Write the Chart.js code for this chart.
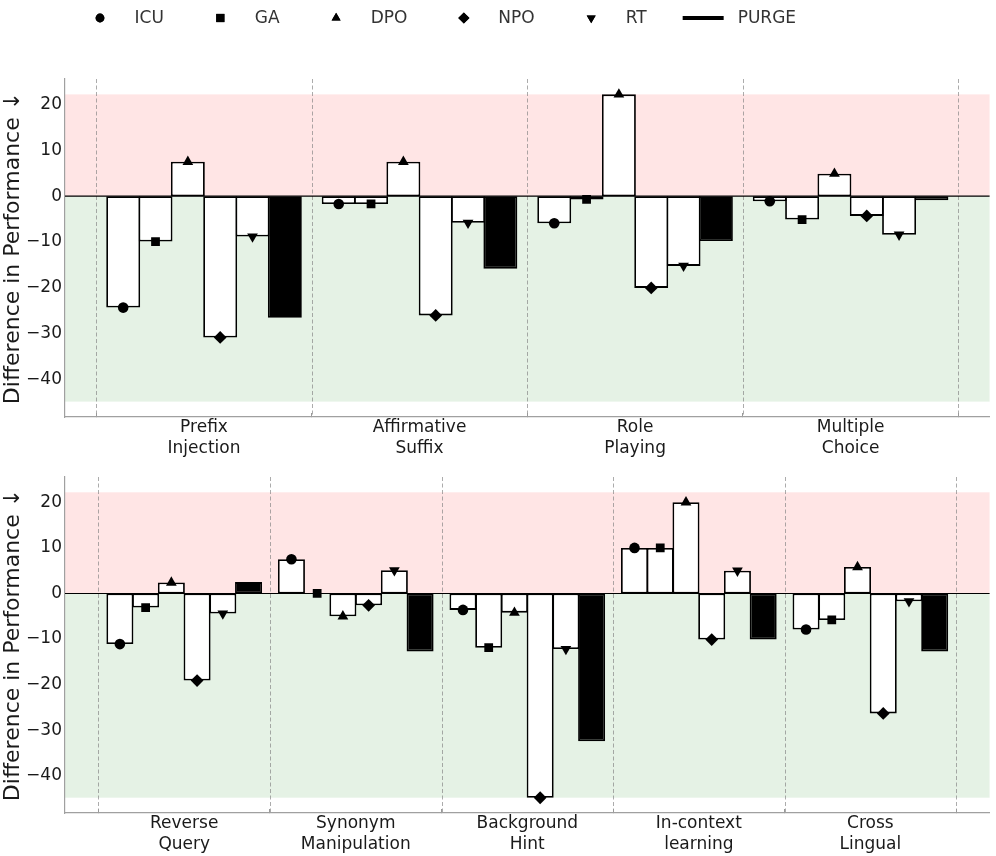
<!DOCTYPE html>
<html><head><meta charset="utf-8">
<script src="https://cdn.jsdelivr.net/npm/chart.js@4.4.0/dist/chart.umd.min.js"></script>
<style>
html,body{margin:0;padding:0;background:#fff;}
#wrap{position:relative;width:996px;height:856px;overflow:hidden;}
#c1box{position:absolute;left:0;top:0;width:996px;height:460px;}
#c2box{position:absolute;left:0;top:460px;width:996px;height:396px;}
</style></head><body>
<div id="wrap"><div id="c1box"><canvas id="c1"></canvas></div><div id="c2box"><canvas id="c2"></canvas></div></div>
<script>
// ---------------- DATA ----------------
const seriesNames = ['ICU', 'GA', 'DPO', 'NPO', 'RT', 'PURGE'];

const topCategories = ['Prefix Injection', 'Affirmative Suffix', 'Role Playing', 'Multiple Choice'];
const topICU   = [-24.3, -1.7, -5.9, -1.1];
const topGA    = [-9.9, -1.7, -0.7, -5.1];
const topDPO   = [7.5, 7.5, 22.2, 4.9];
const topNPO   = [-30.8, -26.0, -20.0, -4.3];
const topRT    = [-8.8, -5.8, -15.2, -8.4];
const topPURGE = [-26.5, -15.8, -9.8, -0.9];

const bottomCategories = ['Reverse Query', 'Synonym Manipulation', 'Background Hint', 'In-context learning', 'Cross Lingual'];
const bottomICU   = [-11.1, 7.5, -3.6, 10.0, -7.9];
const bottomGA    = [-3.1, 0.0, -11.9, 10.0, -5.8];
const bottomDPO   = [2.4, -5.0, -4.2, 20.0, 5.8];
const bottomNPO   = [-19.1, -2.6, -44.8, -10.1, -26.3];
const bottomRT    = [-4.4, 5.1, -12.2, 5.0, -1.7];
const bottomPURGE = [2.5, -12.7, -32.4, -10.1, -12.7];

const yTickValues = [20, 10, 0, -10, -20, -30, -40];
const yTitle = 'Difference in Performance \u2193';

// ---------------- STYLE ----------------
const markerStyles = ['circle', 'rect', 'triangle', 'rectRot', 'triangle'];
const markerRotations = [0, 0, 0, 0, 180];
const markerRadii = [5.3, 6.2, 6.2, 6.4, 6.2];
const legendRadii = [4.4, 5.8, 5.2, 5.6, 5.2];
const FONT = 'DejaVu Sans';
Chart.defaults.font.family = FONT;
Chart.defaults.color = '#1a1a1a';

const topSeries = [topICU, topGA, topDPO, topNPO, topRT, topPURGE];
const bottomSeries = [bottomICU, bottomGA, bottomDPO, bottomNPO, bottomRT, bottomPURGE];
const allVals = topSeries.concat(bottomSeries).flat();
const bandMax = Math.max(...allVals);
const bandMin = Math.min(...allVals);
const yRange = bandMax - bandMin;
const yMin = bandMin - 0.05 * yRange;
const yMax = bandMax + 0.05 * yRange;

function fmt(v) { return String(v).replace('-', '\u2212'); }

function makeChart(id, cats, series, padTop, withLegend) {
  const n = cats.length;
  const nS = series.length;
  const catPct = 0.9;
  const barW = catPct / nS;
  const xLo = -catPct / 2, xHi = n - 1 + catPct / 2;
  const xPad = 0.05 * (xHi - xLo);
  const datasets = [];
  series.forEach((vals, j) => {
    const isPurge = j === nS - 1;
    datasets.push({
      type: 'bar', label: seriesNames[j],
      data: vals.map((v, i) => ({x: i, y: v})),
      backgroundColor: isPurge ? '#000' : '#fff',
      borderColor: '#000', borderWidth: 1.8, borderSkipped: false,
      barPercentage: 1.05, categoryPercentage: catPct, inflateAmount: 0, order: 1
    });
  });
  series.slice(0, nS - 1).forEach((vals, j) => {
    datasets.push({
      type: 'line', label: seriesNames[j] + '_m',
      data: vals.map((v, i) => ({x: i + (j - (nS - 1) / 2) * barW, y: v})),
      showLine: false, pointStyle: markerStyles[j], pointRotation: markerRotations[j],
      pointRadius: markerRadii[j], pointBackgroundColor: '#000', pointBorderColor: '#000',
      pointBorderWidth: 0, order: 0
    });
  });

  const bgPlugin = {
    id: 'bg' + id,
    beforeDraw(chart) {
      const {ctx, chartArea: a, scales: {x, y}} = chart;
      ctx.save();
      const y0 = y.getPixelForValue(0), yT = y.getPixelForValue(bandMax), yB = y.getPixelForValue(bandMin);
      ctx.fillStyle = 'rgba(255,0,0,0.1)';
      ctx.fillRect(a.left, yT, a.right - a.left, y0 - yT);
      ctx.fillStyle = 'rgba(0,128,0,0.1)';
      ctx.fillRect(a.left, y0, a.right - a.left, yB - y0);
      ctx.strokeStyle = 'rgba(128,128,128,0.65)';
      ctx.lineWidth = 1;
      ctx.setLineDash([4, 2.5]);
      for (let i = 0; i <= n; i++) {
        const px = Math.round(x.getPixelForValue(i - 0.5)) + 0.5;
        ctx.beginPath(); ctx.moveTo(px, a.top); ctx.lineTo(px, a.bottom); ctx.stroke();
      }
      ctx.restore();
    },
    beforeDatasetsDraw(chart) {
      const {ctx, chartArea: a, scales: {y}} = chart;
      const y0 = y.getPixelForValue(0);
      ctx.save();
      ctx.strokeStyle = '#000'; ctx.lineWidth = 1.2;
      ctx.beginPath(); ctx.moveTo(a.left, y0); ctx.lineTo(a.right, y0); ctx.stroke();
      ctx.restore();
    }
  };

  const legendPlugin = {
    id: 'lg' + id,
    afterDraw(chart) {
      if (!withLegend) return;
      const ctx = chart.ctx;
      ctx.save();
      ctx.font = '17px "' + FONT + '"';
      ctx.textBaseline = 'middle';
      const handleLen = 41, textPad = 14, colSpace = 36, cy = 18;
      let xCur = 79.5;
      seriesNames.forEach((name, j) => {
        const hc = xCur + handleLen / 2;
        ctx.fillStyle = '#000';
        if (j < markerStyles.length) {
          Chart.helpers.drawPoint(ctx, {
            pointStyle: markerStyles[j], rotation: markerRotations[j],
            radius: legendRadii[j], borderWidth: 0
          }, hc, cy);
          ctx.fillStyle = '#000';
          ctx.fill();
        } else {
          ctx.fillRect(xCur, cy - 2, handleLen, 4);
        }
        ctx.fillStyle = '#333';
        const tx = xCur + handleLen + textPad;
        ctx.fillText(name, tx, cy + 1);
        xCur = tx + ctx.measureText(name).width + colSpace;
      });
      ctx.restore();
    }
  };

  return new Chart(document.getElementById(id), {
    type: 'bar',
    data: {datasets},
    options: {
      responsive: true, maintainAspectRatio: false, animation: false, events: [],
      layout: {padding: {top: padTop, left: 0, right: 3, bottom: 0}},
      plugins: {legend: {display: false}, tooltip: {enabled: false}},
      scales: {
        x: {
          type: 'linear', offset: false,
          min: xLo - xPad, max: xHi + xPad,
          afterBuildTicks: s => { s.ticks = cats.map((c, i) => ({value: i})); },
          afterFit: s => { s.height = 43; },
          ticks: {
            autoSkip: false, maxRotation: 0, minRotation: 0, padding: 5,
            font: {size: 17, lineHeight: 1.18}, color: '#1a1a1a',
            callback: (v, idx) => {
              const c = cats[idx];
              const k = c.indexOf(' ');
              return k < 0 ? c : [c.slice(0, k), c.slice(k + 1)];
            }
          },
          grid: {display: true, drawOnChartArea: false, drawTicks: true, tickLength: -4, color: '#999'},
          border: {display: true, color: '#a0a0a0', width: 1.2}
        },
        y: {
          type: 'linear', min: yMin, max: yMax,
          afterBuildTicks: s => { s.ticks = yTickValues.map(v => ({value: v})); },
          afterFit: s => { s.width = 65; },
          ticks: {padding: 3, font: {size: 17}, color: '#1a1a1a', callback: v => fmt(v)},
          grid: {display: false, drawTicks: false},
          border: {display: true, color: '#a0a0a0', width: 1.2},
          title: {display: true, text: yTitle, font: {size: 22}, color: '#1a1a1a', padding: {top: 0, bottom: 0}}
        }
      }
    },
    plugins: [bgPlugin, legendPlugin]
  });
}

makeChart('c1', topCategories, topSeries, 79, true);
makeChart('c2', bottomCategories, bottomSeries, 17, false);
</script>
</body></html>
